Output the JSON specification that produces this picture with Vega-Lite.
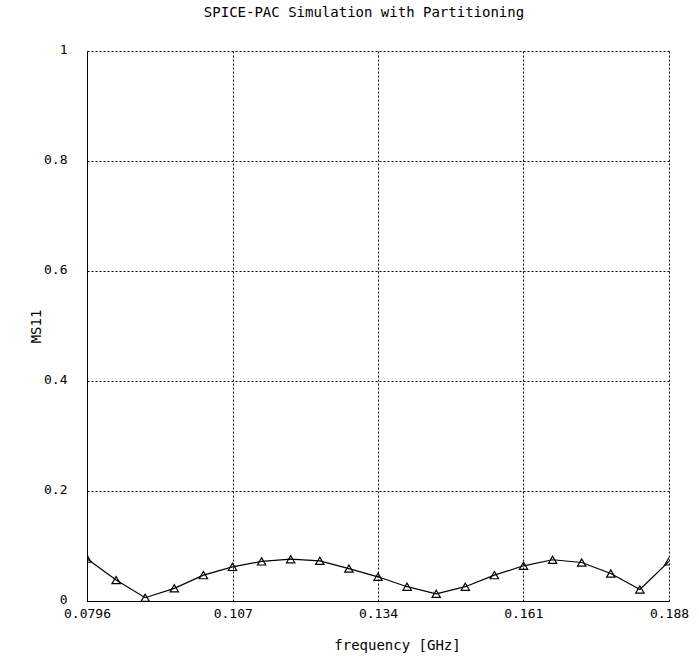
{
  "$schema": "https://vega.github.io/schema/vega-lite/v6.json",
  "width": 582,
  "height": 550,
  "autosize": "none",
  "padding": {"left": 87, "top": 51, "right": 30, "bottom": 59},
  "background": "white",
  "title": {
    "text": "SPICE-PAC Simulation with Partitioning",
    "font": "DejaVu Sans Mono",
    "fontSize": 14,
    "fontWeight": "normal",
    "color": "black",
    "offset": 24,
    "dx": -14
  },
  "data": {
    "values": [
      {"f": 0.0796, "ms11": 0.077},
      {"f": 0.08502, "ms11": 0.038},
      {"f": 0.09044, "ms11": 0.006},
      {"f": 0.09586, "ms11": 0.023},
      {"f": 0.10128, "ms11": 0.047},
      {"f": 0.1067, "ms11": 0.062},
      {"f": 0.11212, "ms11": 0.072},
      {"f": 0.11754, "ms11": 0.076},
      {"f": 0.12296, "ms11": 0.073},
      {"f": 0.12838, "ms11": 0.059},
      {"f": 0.1338, "ms11": 0.044},
      {"f": 0.13922, "ms11": 0.026},
      {"f": 0.14464, "ms11": 0.013},
      {"f": 0.15006, "ms11": 0.026},
      {"f": 0.15548, "ms11": 0.047},
      {"f": 0.1609, "ms11": 0.064},
      {"f": 0.16632, "ms11": 0.075},
      {"f": 0.17174, "ms11": 0.070},
      {"f": 0.17716, "ms11": 0.050},
      {"f": 0.18258, "ms11": 0.021},
      {"f": 0.188, "ms11": 0.072}
    ]
  },
  "config": {
    "view": {"stroke": null},
    "axis": {
      "labelFont": "DejaVu Sans Mono",
      "labelFontSize": 13,
      "labelColor": "black",
      "titleFont": "DejaVu Sans Mono",
      "titleFontSize": 14,
      "titleFontWeight": "normal",
      "titleColor": "black",
      "domainColor": "black",
      "domainWidth": 1,
      "ticks": false,
      "grid": true,
      "gridColor": "black",
      "gridOpacity": 1,
      "gridDash": [2, 2],
      "gridWidth": 1
    }
  },
  "encoding": {
    "x": {
      "field": "f",
      "type": "quantitative",
      "title": "frequency [GHz]",
      "scale": {"domain": [0.0796, 0.188], "nice": false, "zero": false},
      "axis": {
        "values": [0.0796, 0.10675, 0.1338, 0.16085, 0.188],
        "labelExpr": "datum.value < 0.08 ? '0.0796' : format(datum.value, '.3f')",
        "labelPadding": 6,
        "labelFlush": false,
        "titleX": 310,
        "titleY": 51,
        "titleBaseline": "bottom",
        "titleAlign": "center"
      }
    },
    "y": {
      "field": "ms11",
      "type": "quantitative",
      "title": "MS11",
      "scale": {"domain": [0, 1], "nice": false},
      "axis": {
        "values": [0, 0.2, 0.4, 0.6, 0.8, 1],
        "format": ".1~f",
        "labelPadding": 20,
        "labelOffset": -1.5,
        "labelFlush": false,
        "titleX": -44,
        "titleY": 275,
        "titleAngle": -90,
        "titleBaseline": "bottom",
        "titleAlign": "center"
      }
    }
  },
  "layer": [
    {
      "mark": {"type": "line", "color": "black", "strokeWidth": 1.2, "clip": true}
    },
    {
      "mark": {
        "type": "point",
        "shape": "triangle-up",
        "filled": false,
        "stroke": "black",
        "strokeWidth": 1.2,
        "size": 70,
        "opacity": 1,
        "clip": true
      }
    }
  ]
}
